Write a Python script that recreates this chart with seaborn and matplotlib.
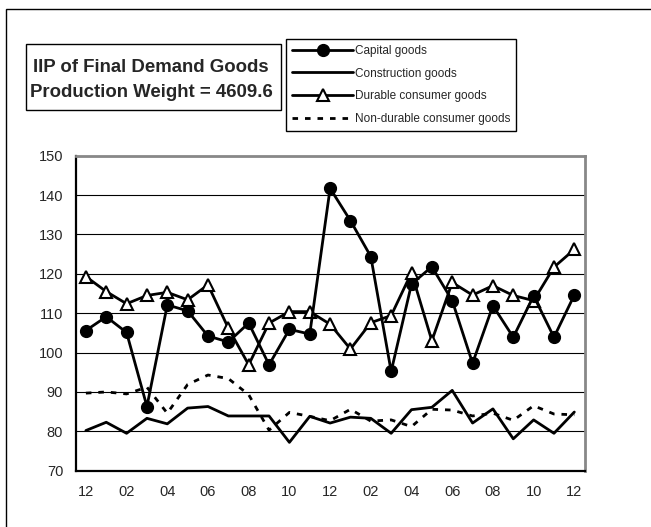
import numpy as np
import pandas as pd
import matplotlib
matplotlib.use('Agg')
import matplotlib.pyplot as plt
from matplotlib.patches import Rectangle
import seaborn as sns

# months, Dec to Dec two years later
months = ['12', '01', '02', '03', '04', '05', '06', '07', '08', '09', '10', '11',
          '12', '01', '02', '03', '04', '05', '06', '07', '08', '09', '10', '11', '12']

capital = [105.6, 109.1, 105.1, 86.3, 112.1, 110.6, 104.2, 102.7, 107.5, 96.9,
           105.9, 104.7, 141.7, 133.5, 124.4, 95.2, 117.4, 121.8, 113.2, 97.3,
           111.9, 103.9, 114.4, 103.9, 114.6]
construction = [80.2, 82.3, 79.5, 83.3, 81.9, 85.9, 86.3, 83.9, 83.9, 83.9,
                77.2, 83.8, 82.1, 83.6, 83.3, 79.5, 85.5, 86.1, 90.4, 82.1,
                85.7, 78.1, 82.9, 79.5, 84.9]
durable = [119.3, 115.5, 112.4, 114.5, 115.3, 113.4, 117.2, 106.2, 96.9, 107.5,
           110.4, 110.4, 107.2, 100.9, 107.6, 109.4, 120.3, 103.0, 117.8, 114.6,
           117.0, 114.5, 113.2, 121.7, 126.2]
nondurable = [89.7, 90.0, 89.5, 91.2, 84.6, 91.9, 94.3, 93.4, 89.3, 80.3,
              84.8, 83.8, 82.7, 85.6, 82.6, 82.9, 81.2, 85.6, 85.4, 83.9,
              84.6, 82.8, 86.5, 84.4, 84.2]

title_lines = ['IIP of Final Demand Goods', 'Production Weight = 4609.6']

sns.set_style('white')
plt.rcParams['font.family'] = ['Liberation Sans', 'DejaVu Sans']

xs = np.arange(len(months))

fig = plt.figure(figsize=(6.51, 5.27), dpi=100)
ax = fig.add_axes([75.7 / 651, 56.3 / 527, 508.8 / 651, 315 / 527])

sns.lineplot(x=xs, y=construction, ax=ax, color='black', lw=2,
             label='Construction goods')
sns.lineplot(x=xs, y=nondurable, ax=ax, color='black', lw=2,
             linestyle=(0, (2, 2.5)), label='Non-durable consumer goods')
sns.lineplot(x=xs, y=durable, ax=ax, color='black', lw=2, marker='^',
             markersize=8, markerfacecolor='white', markeredgecolor='black',
             markeredgewidth=1.5, label='Durable consumer goods')
sns.lineplot(x=xs, y=capital, ax=ax, color='black', lw=2, marker='o',
             markersize=8.5, markerfacecolor='black', markeredgecolor='black',
             markeredgewidth=1, label='Capital goods')
if ax.get_legend() is not None:
    ax.get_legend().remove()

ax.set_xlim(-0.5, 24.5)
ax.set_ylim(70, 150)
ax.set_yticks(range(70, 151, 10))
ax.yaxis.grid(True, color='black', lw=0.8)
ax.set_axisbelow(True)
ax.set_xticks(xs[::2])
ax.set_xticklabels(months[::2])
ax.set_xticks(np.arange(-0.5, 24, 2), minor=True)
ax.tick_params(axis='x', which='major', length=0, pad=10, labelsize=10.5)
ax.tick_params(axis='x', which='minor', direction='in', length=3.5, width=1.2, color='black')
ax.tick_params(axis='y', length=0, pad=9, labelsize=10.5)
ax.set_xlabel('')
ax.set_ylabel('')
for s in ['left', 'bottom']:
    ax.spines[s].set_color('black')
    ax.spines[s].set_linewidth(1.6)
for s in ['top', 'right']:
    ax.spines[s].set_color('#888888')
    ax.spines[s].set_linewidth(2)

# legend in the fixed order of the original
h, l = ax.get_legend_handles_labels()
order = ['Capital goods', 'Construction goods', 'Durable consumer goods',
         'Non-durable consumer goods']
hd = dict(zip(l, h))
fig.legend([hd[k] for k in order], order, loc='upper left',
           bbox_to_anchor=(286 / 651, 1 - 39 / 527), fontsize=8.5,
           frameon=True, fancybox=False, edgecolor='black', framealpha=1,
           handlelength=5.2, handletextpad=0.15, labelspacing=0.9,
           borderpad=0.5, borderaxespad=0, numpoints=1)

# title box
fig.add_artist(Rectangle((26 / 651, 1 - 110 / 527), 255 / 651, 66 / 527,
                         transform=fig.transFigure, fill=False, ec='black', lw=1))
fig.text(151 / 651, 1 - 67.5 / 527, title_lines[0], ha='center', va='center',
         fontweight='bold', fontsize=13.4)
fig.text(151 / 651, 1 - 92.5 / 527, title_lines[1], ha='center', va='center',
         fontweight='bold', fontsize=13.4)

# outer frame
fig.add_artist(Rectangle((6 / 651, -0.2), 1.2, 1.2 - 9 / 527,
                         transform=fig.transFigure, fill=False, ec='black', lw=1))

fig.savefig('out.png', dpi=100)
